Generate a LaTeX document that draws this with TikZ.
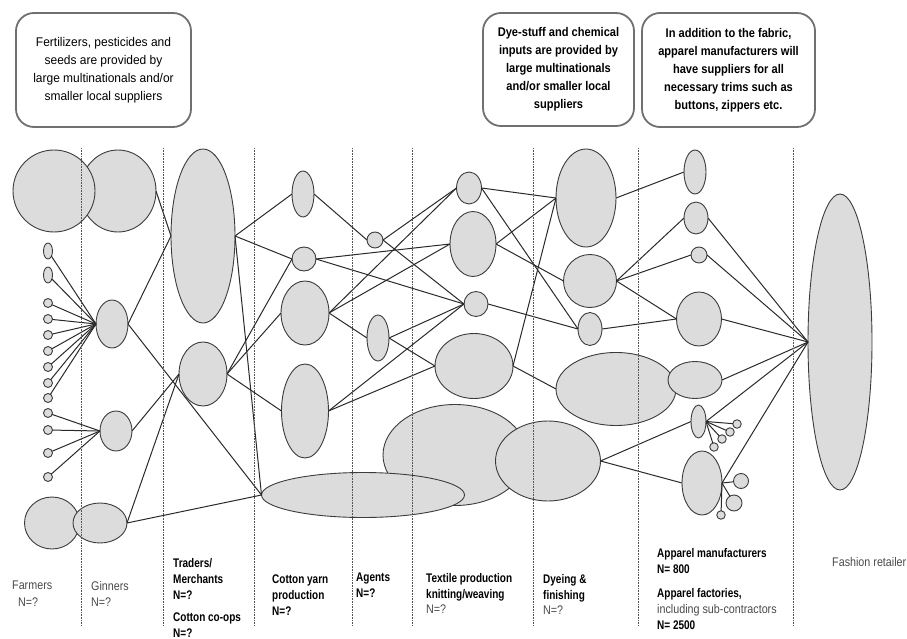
\documentclass[tikz,border=0pt]{standalone}
\usepackage{fontspec}
\setmainfont{Liberation Sans}[FakeStretch=0.8]
\newfontfamily\regf{Liberation Sans}[FakeStretch=0.86]
\newfontfamily\boxf{Liberation Sans}[FakeStretch=0.88]
\newfontfamily\boxr{Liberation Sans}[FakeStretch=0.95]
\usetikzlibrary{shapes.geometric}
\definecolor{bubfill}{HTML}{DCDCDC}
\definecolor{bubline}{HTML}{3C3C3C}
\definecolor{boxline}{HTML}{707070}
\definecolor{txtgray}{HTML}{4A4A4A}
\definecolor{linkc}{HTML}{2A2A2A}
\definecolor{sepc}{HTML}{555555}
\newcommand\bubble[5]{\node[bub, minimum width=#4pt, minimum height=#5pt] (#1) at (#2,#3) {};}
\begin{document}
\begin{tikzpicture}[x=1pt,y=-1pt,
 bub/.style={ellipse, draw=bubline, fill=bubfill, line width=0.9pt, inner sep=0pt, outer sep=0pt},
 link/.style={draw=linkc, line width=1pt},
 sep/.style={draw=sepc, line width=0.8pt, dash pattern=on 0.8pt off 0.8pt},
 infobox/.style={draw=boxline, line width=1.8pt, rounded corners=18pt, inner sep=0pt, align=center},
 lab/.style={align=left, anchor=north west, inner sep=0pt, font=\fontsize{12.5}{16}\selectfont\bfseries},
 labr/.style={align=left, anchor=north west, inner sep=0pt, text=txtgray, font=\regf\fontsize{12.5}{16}\selectfont},
]
\useasboundingbox (0,0) rectangle (907,639);

% info boxes
\node[infobox, minimum width=175pt, minimum height=114pt, font=\boxr\fontsize{12.6}{18}\selectfont] (b1) at (103.5,70)
 {Fertilizers, pesticides and\\seeds are provided by\\large multinationals and/or\\smaller local suppliers};
\node[infobox, minimum width=151pt, minimum height=113pt, font=\boxf\fontsize{12.6}{18}\selectfont\bfseries] (b2) at (558.5,69.5)
 {Dye-stuff and chemical\\inputs are provided by\\large multinationals\\and/or smaller local\\suppliers};
\node[infobox, minimum width=173pt, minimum height=114pt, font=\boxf\fontsize{12.6}{18}\selectfont\bfseries] (b3) at (728.5,70)
 {In addition to the fabric,\\apparel manufacturers will\\have suppliers for all\\necessary trims such as\\buttons, zippers etc.};

% farmers / ginners
\bubble{GA}{118}{191}{76}{82}
\bubble{FA}{54}{191}{82}{82}
\bubble{f1}{48}{251}{9}{16}
\bubble{f2}{48}{275}{9}{16}
\bubble{c1}{48}{303}{9}{9}
\bubble{c2}{48}{319}{9}{9}
\bubble{c3}{48}{335}{9}{9}
\bubble{c4}{48}{351}{9}{9}
\bubble{c5}{48}{367}{9}{9}
\bubble{c6}{48}{383}{9}{9}
\bubble{c7}{48}{398}{9}{9}
\bubble{c8}{48}{413}{9}{9}
\bubble{c9}{48}{430}{9}{9}
\bubble{c10}{48}{453}{9}{9}
\bubble{c11}{48}{477}{9}{9}
\bubble{G1}{112}{324}{32}{48}
\bubble{G2}{116}{431}{32}{40}
\bubble{FB}{52}{523}{55}{52}
\bubble{GB}{100}{523}{54}{40}
% traders / co-ops
\bubble{TR}{203}{236}{64}{174}
\bubble{CO}{203}{374}{48}{64}
% yarn
\bubble{Y1}{303}{194}{22}{46}
\bubble{Y2}{304}{259}{24}{24}
\bubble{Y3}{305}{313}{48}{64}
\bubble{Y4}{305}{411}{47}{94}
\bubble{T5}{455}{455}{144}{101}
\bubble{YB}{363}{495}{203}{45}
% agents
\bubble{A1}{375}{240}{16}{16}
\bubble{A2}{378}{338}{22}{46}
% textile
\bubble{T1}{469}{188}{25}{32}
\bubble{T2}{473}{244}{46}{65}
\bubble{T3}{476}{304}{24}{25}
\bubble{T4}{474}{366}{78}{65}
% dyeing
\bubble{D5}{548}{461}{105}{80}
\bubble{D1}{586}{198}{60}{98}
\bubble{D2}{590}{281}{53}{53}
\bubble{D3}{590}{329}{24}{33}
\bubble{D4}{616}{389}{120}{73}
% apparel
\bubble{P1}{695}{172}{22}{44}
\bubble{P2}{696}{218}{24}{32}
\bubble{P3}{699}{255}{16}{16}
\bubble{P4}{699}{319}{45}{54}
\bubble{P5}{695}{380}{54}{37}
\bubble{P6}{698.5}{421.5}{15}{33}
\bubble{P7}{702}{483}{40}{64}
\bubble{s1}{737}{424}{8.5}{8.5}
\bubble{s2}{730}{432}{8.5}{8.5}
\bubble{s3}{722}{439}{8.5}{8.5}
\bubble{s4}{714}{447}{8.5}{8.5}
\bubble{q1}{741}{481}{15}{15}
\bubble{q2}{734}{503}{16}{16}
\bubble{q3}{721}{515}{8.5}{8.5}
% retailer
\bubble{R}{840}{342}{64}{296}

% links
\foreach \n in {f1,f2,c1,c2,c3,c4,c5,c6,c7} \draw[link] (\n) -- (G1.west);
\foreach \n in {c8,c9,c10,c11} \draw[link] (\n) -- (G2.west);
\draw[link] (GA.east) -- (TR.west);
\draw[link] (G1.east) -- (TR.west);
\draw[link] (G1.east) -- (YB.west);
\draw[link] (G2.east) -- (CO.west);
\draw[link] (GB.east) -- (CO.west);
\draw[link] (GB.east) -- (YB.west);
\foreach \n in {Y1,Y2,YB} \draw[link] (TR.east) -- (\n.west);
\foreach \n in {Y2,Y3,Y4} \draw[link] (CO.east) -- (\n.west);
\draw[link] (Y1.east) -- (A1.west);
\foreach \n in {T2,T3} \draw[link] (Y2.east) -- (\n.west);
\foreach \n in {T1,T2,A2} \draw[link] (Y3.east) -- (\n.west);
\foreach \n in {T3,T4} \draw[link] (Y4.east) -- (\n.west);
\foreach \n in {T1,T3} \draw[link] (A1.east) -- (\n.west);
\foreach \n in {T3,T4} \draw[link] (A2.east) -- (\n.west);
\foreach \n in {D1,D3} \draw[link] (T1.east) -- (\n.west);
\foreach \n in {D1,D2} \draw[link] (T2.east) -- (\n.west);
\draw[link] (T3.east) -- (D3.west);
\foreach \n in {D1,D4} \draw[link] (T4.east) -- (\n.west);
\foreach \n in {P6,P7} \draw[link] (D5.east) -- (\n.west);
\draw[link] (D1.east) -- (P1.west);
\foreach \n in {P2,P3,P4} \draw[link] (D2.east) -- (\n.west);
\draw[link] (D3.east) -- (P4.west);
\foreach \n in {P2,P3,P4,P5,P6,P7} \draw[link] (\n.east) -- (R.west);
\foreach \n in {s1,s2,s3,s4} \draw[link] (P6.east) -- (\n);
\foreach \n in {q1,q2,q3} \draw[link] (P7.east) -- (\n);

% separators
\foreach \x [count=\i] in {81,163,254,352,412,533,638,793}
  \draw[sep] (\x,148) coordinate (st\i) -- (\x,625) coordinate (sb\i);

% labels
\node[labr] (lfa) at (12,581) {Farmers};
\node[labr] (lfan) at (18,597.5) {N=?};
\node[labr] (lgi) at (91,581) {Ginners\\N=?};
\node[lab] (ltr) at (173,558) {Traders/\\Merchants\\N=?};
\node[lab] (lco) at (173,613) {Cotton co-ops\\N=?};
\node[lab] (lya) at (272,574.5) {Cotton yarn\\production\\N=?};
\node[lab] (lag) at (356,573) {Agents\\N=?};
\node[lab] (ltx) at (426,573) {Textile production\\knitting/weaving};
\node[labr] (ltxn) at (426,605) {N=?};
\node[lab] (ldy) at (543,574.5) {Dyeing \&\\finishing};
\node[labr] (ldyn) at (543,606) {N=?};
\node[lab] (lap) at (657,548.5) {Apparel manufacturers\\N= 800};
\node[lab] (laf) at (657,588) {Apparel factories,};
\node[labr] (las) at (657,604.5) {including sub-contractors};
\node[lab] (lan) at (657,620.5) {N= 2500};
\node[labr] (lre) at (832,557) {Fashion retailer};
\end{tikzpicture}
\end{document}
